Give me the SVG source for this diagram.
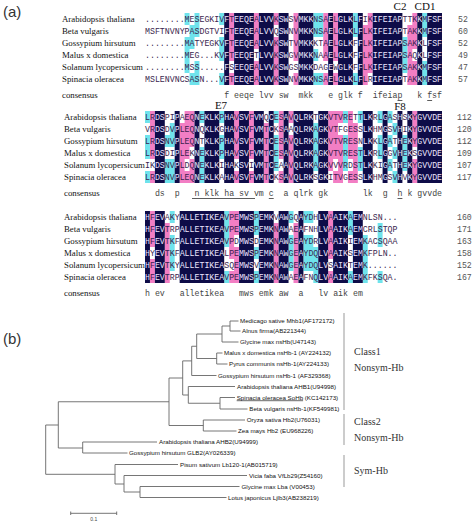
<svg xmlns="http://www.w3.org/2000/svg" width="474" height="523" viewBox="0 0 474 523">
<style>
.seq{font-family:"Liberation Mono","DejaVu Sans Mono",monospace;font-size:8.25px}
.con{font-family:"Liberation Mono","DejaVu Sans Mono",monospace;font-size:8.25px;fill:#444;white-space:pre}
.lab{font-family:"Liberation Serif","Times New Roman",serif;font-size:8.8px;fill:#111}
.num{font-family:"Liberation Mono",monospace;font-size:8.2px;fill:#555}
.mk{font-family:"Liberation Serif","Times New Roman",serif;font-size:11px;fill:#111;text-anchor:middle}
.pk{fill:#f27ec4}
.cy{fill:#6fe3ec}
.nv{fill:#0e0c48}
.ul{stroke:#333;stroke-width:0.8}
.br{stroke:#666;stroke-width:0.9;fill:none}
.lf{font-family:"Liberation Sans",Arial,sans-serif;font-size:6.2px;fill:#111}
.cl{font-family:"Liberation Serif","Times New Roman",serif;font-size:10px;fill:#333}
.pn{font-family:"Liberation Sans",Arial,sans-serif;font-size:15px;fill:#333}
.grp{stroke:#999;stroke-width:1}
</style>
<defs>
<clipPath id="c1"><path transform="translate(145,13) scale(4.95,12)" d="M16 0h1v6h-1zM18 0h4v6h-4zM23 0h3v6h-3zM27 0h2v6h-2zM31 0h3v6h-3zM37 0h1v6h-1zM39 0h3v6h-3zM43 0h1v6h-1zM46 0h6v6h-6zM55 0h1v6h-1zM57 0h3v6h-3z"/></clipPath>
<clipPath id="c2"><path transform="translate(145,111) scale(4.95,12)" d="M2 0h2v6h-2zM6 0h1v6h-1zM10 0h1v6h-1zM12 0h3v6h-3zM16 0h2v6h-2zM19 0h2v6h-2zM22 0h2v6h-2zM25 0h1v6h-1zM28 0h1v6h-1zM30 0h4v6h-4zM35 0h2v6h-2zM44 0h2v6h-2zM48 0h1v6h-1zM51 0h1v6h-1zM53 0h1v6h-1zM55 0h5v6h-5z"/></clipPath>
<clipPath id="c3"><path transform="translate(145,211) scale(4.95,12)" d="M0 0h1v6h-1zM2 0h2v6h-2zM7 0h9v6h-9zM19 0h3v6h-3zM23 0h3v6h-3zM27 0h2v6h-2zM31 0h1v6h-1zM35 0h2v6h-2zM38 0h3v6h-3zM42 0h2v6h-2z"/></clipPath>
</defs>
<rect width="474" height="523" fill="#fff"/>
<text class="pn" x="3" y="17">(a)</text>
<text class="pn" x="3" y="344">(b)</text>

<g id="block1">
<path class="pk" transform="translate(145,13) scale(4.95,12)" d="M17 0h1v4h-1zM17 5h1v1h-1zM22 0h1v3h-1zM22 4h1v2h-1zM26 0h1v1h-1zM26 2h1v4h-1zM30 0h1v4h-1zM30 5h1v1h-1zM36 0h1v4h-1zM36 5h1v1h-1zM38 0h1v4h-1zM38 5h1v1h-1zM44 1h1v5h-1zM45 0h1v5h-1zM53 1h1v5h-1zM54 0h1v3h-1zM54 4h1v2h-1z"/>
<path class="cy" transform="translate(145,13) scale(4.95,12)" d="M8 0h1v1h-1zM8 2h1v3h-1zM9 1h1v2h-1zM9 5h1v1h-1zM10 0h1v2h-1zM10 4h1v2h-1zM15 0h1v1h-1zM15 2h1v2h-1zM15 5h1v1h-1zM34 0h2v2h-2zM34 3h1v1h-1zM34 5h2v1h-2zM42 0h1v2h-1zM42 5h1v1h-1zM52 2h1v3h-1zM56 0h1v2h-1zM56 4h1v2h-1z"/>
<g fill="#3b1f4f"><g id="s1">
<text class="seq" x="145" y="22">........MESEGKIVFTEEQEALVVKSWSVMKKNSAELGLKLFIKIFEIAPTTKKMFSF</text>
<text class="seq" x="145" y="34">MSFTNVNYPASDGTVIFTEEQEALVVQSWNVMKKNSAELGLKLFLKIFEIAPTAKKMFSF</text>
<text class="seq" x="145" y="46">........MATYEGKVFTEEQEALVVKSWTVMKKKTAELGLKFFLKIFEIAPSAKKLFSF</text>
<text class="seq" x="145" y="58">........MEG...KVFTEEQETLVVKSWGVMKKNAAELGLKFFLKIFEIAPSAQKLFSF</text>
<text class="seq" x="145" y="70">........MSS.....FSEEQEALVVKSWGSMKKDAGEWGLKFFLKIFEIAPSAKKMFSF</text>
<text class="seq" x="145" y="82">MSLENVNCSASN...VFTEEQEALVVKSWNVMKKNSAELGLKLFLRIFEIAPTAKKMFSF</text>
</g></g>
<rect class="nv" x="145" y="13" width="297" height="72" clip-path="url(#c1)"/>
<use href="#s1" fill="#ece6ff" clip-path="url(#c1)"/>
<text class="con" x="224.2" y="98" xml:space="preserve">f eeqe lvv sw  mkk   e glk f  ifeiap   k fsf</text>
<line class="ul" x1="397.5" y1="100.5" x2="402.4" y2="100.5"/>
<line class="ul" x1="427.2" y1="100.5" x2="432.1" y2="100.5"/>
<text class="mk" x="400" y="10">C2</text>
<text class="mk" x="425" y="10">CD1</text>
<g class="lab">
<text x="62" y="22">Arabidopsis thaliana</text>
<text x="62" y="34">Beta vulgaris</text>
<text x="62" y="46">Gossypium hirsutum</text>
<text x="62" y="58">Malus x domestica</text>
<text x="62" y="70">Solanum lycopersicum</text>
<text x="62" y="82">Spinacia oleracea</text>
<text x="62" y="98">consensus</text>
</g>
<g class="num">
<text x="458" y="22">52</text><text x="458" y="34">60</text><text x="458" y="46">52</text>
<text x="458" y="58">49</text><text x="458" y="70">47</text><text x="458" y="82">57</text>
</g>
</g>

<g id="block2">
<path class="pk" transform="translate(145,111) scale(4.95,12)" d="M1 0h1v4h-1zM1 5h1v1h-1zM7 1h1v5h-1zM8 0h1v4h-1zM8 5h1v1h-1zM9 0h1v3h-1zM9 4h1v2h-1zM18 0h1v4h-1zM18 5h1v1h-1zM21 0h1v4h-1zM21 5h1v1h-1zM24 1h1v5h-1zM27 0h1v4h-1zM27 5h1v1h-1zM29 0h1v1h-1zM29 2h1v4h-1zM37 0h1v5h-1zM38 0h1v4h-1zM38 5h1v1h-1zM39 0h1v1h-1zM39 2h1v4h-1zM41 0h1v4h-1zM41 5h1v1h-1zM42 1h1v5h-1zM54 0h1v3h-1zM54 4h1v2h-1z"/>
<path class="cy" transform="translate(145,111) scale(4.95,12)" d="M0 0h1v1h-1zM0 2h1v2h-1zM0 5h1v1h-1zM4 2h1v1h-1zM4 4h1v2h-1zM5 1h1v2h-1zM5 4h1v2h-1zM11 0h1v1h-1zM11 3h1v3h-1zM15 0h1v1h-1zM15 2h1v2h-1zM26 0h1v1h-1zM26 2h1v3h-1zM34 1h1v4h-1zM40 0h1v1h-1zM40 2h1v3h-1zM43 0h1v1h-1zM43 3h1v2h-1zM47 0h1v1h-1zM47 2h1v2h-1zM49 0h1v1h-1zM49 2h1v1h-1zM49 4h1v1h-1zM50 1h1v1h-1zM50 3h1v1h-1zM50 5h1v1h-1zM52 2h1v3h-1z"/>
<g fill="#3b1f4f"><g id="s2">
<text class="seq" x="145" y="120">LRDSPIPAEQNEKLKPHAVSVFVMQCESAVQLRKTGKVTVRETTLKRLGASHSKYGVVDE</text>
<text class="seq" x="145" y="132">VRDSDVPLEQNQKLKGHAVSVFVMTCKSAAQLRKAGKVTFGESSLKHMGSVHIKYGVVDE</text>
<text class="seq" x="145" y="144">LRDSNVPLEQNTKLKPHAVSVFVMTCESAVQLRKAGKVTVRESNLKKLGATHEKYGVVDE</text>
<text class="seq" x="145" y="156">LRDSDIPLEKNEKLKPHAVSVFVMTCESAVQLRKAGKVTVRESTLKRLGGVHEKSGVVDE</text>
<text class="seq" x="145" y="168">IKDSNVPLDQNEKLKIHAKSVIVMTCEAAVQLRKAGKVVVRDSTLKKIGATHEKYGVVDE</text>
<text class="seq" x="145" y="180">LRDSNVPLEQNEKLKAHAVSVFVMTCKSAVQLRKSGKITVGESSLKHMGSVHVKYGVVDE</text>
</g></g>
<rect class="nv" x="145" y="111" width="297" height="72" clip-path="url(#c2)"/>
<use href="#s2" fill="#ece6ff" clip-path="url(#c2)"/>
<text class="con" x="154.9" y="196" xml:space="preserve">ds  p   n klk ha sv vm c  a qlrk gk       lk  g  h k gvvde</text>
<line class="ul" x1="192" y1="198.5" x2="255" y2="198.5"/>
<line class="ul" x1="268.8" y1="198.5" x2="273.7" y2="198.5"/>
<line class="ul" x1="397.5" y1="198.5" x2="402.4" y2="198.5"/>
<text class="mk" x="221" y="109">E7</text>
<text class="mk" x="400" y="110">F8</text>
<g class="lab">
<text x="64" y="120">Arabidopsis thaliana</text>
<text x="64" y="132">Beta vulgaris</text>
<text x="64" y="144">Gossypium hirsutum</text>
<text x="64" y="156">Malus x domestica</text>
<text x="64" y="168">Solanum lycopersicum</text>
<text x="64" y="180">Spinacia oleracea</text>
<text x="64" y="196">consensus</text>
</g>
<g class="num">
<text x="457" y="120">112</text><text x="457" y="132">120</text><text x="457" y="144">112</text>
<text x="457" y="156">109</text><text x="457" y="168">107</text><text x="457" y="180">117</text>
</g>
</g>

<g id="block3">
<path class="pk" transform="translate(145,211) scale(4.95,12)" d="M1 0h1v3h-1zM1 4h1v2h-1zM4 1h1v5h-1zM17 0h1v4h-1zM17 5h1v1h-1zM18 0h1v2h-1zM18 3h1v3h-1zM26 1h1v5h-1zM30 1h1v5h-1zM37 0h1v4h-1zM37 5h1v1h-1z"/>
<path class="cy" transform="translate(145,211) scale(4.95,12)" d="M5 0h1v1h-1zM5 2h1v3h-1zM16 0h1v3h-1zM16 5h1v1h-1zM22 0h1v2h-1zM22 3h1v1h-1zM22 5h1v1h-1zM29 0h1v1h-1zM29 2h1v3h-1zM32 0h2v1h-2zM32 2h2v3h-2zM34 3h1v3h-1zM41 0h1v2h-1zM41 5h1v1h-1zM44 2h1v4h-1zM47 1h1v2h-1zM47 5h1v1h-1z"/>
<g fill="#3b1f4f"><g id="s3">
<text class="seq" x="145" y="220">HFEVAKYALLETIKEAVPEMWSPEMKVAWGQAYDHLVAAIKAEMNLSN...</text>
<text class="seq" x="145" y="232">HFEVTRPALLETIKEAVPEMWSPEMKNAWAEAFNHLVAAIKAEMCRLSTQP</text>
<text class="seq" x="145" y="244">HFEVTKFALLETIKEAVPDMWSDEMKNAWGEAYDRLVAAIKIEMKACSQAA</text>
<text class="seq" x="145" y="256">HYEVTKFALLETIKEALPEMWSPEMKNAWGEAYDQLVAAIKSEMKFPLN..</text>
<text class="seq" x="145" y="268">HFEVTKYALLETIKEASQEMWSVEMKNAWGEAYDQLVSAIKTEMK......</text>
<text class="seq" x="145" y="280">HFEVTRPALLETIKEAVPEMWSPEMKNAWAEAFNQLVAAIKAEMKFKSQA.</text>
</g></g>
<rect class="nv" x="145" y="211" width="252.45" height="72" clip-path="url(#c3)"/>
<use href="#s3" fill="#ece6ff" clip-path="url(#c3)"/>
<text class="con" x="145" y="296" xml:space="preserve">h ev   alletikea   mws emk aw  a   lv aik em</text>
<g class="lab">
<text x="64" y="220">Arabidopsis thaliana</text>
<text x="64" y="232">Beta vulgaris</text>
<text x="64" y="244">Gossypium hirsutum</text>
<text x="64" y="256">Malus x domestica</text>
<text x="64" y="268">Solanum lycopersicum</text>
<text x="64" y="280">Spinacia oleracea</text>
<text x="64" y="296">consensus</text>
</g>
<g class="num">
<text x="457" y="220">160</text><text x="457" y="232">171</text><text x="457" y="244">163</text>
<text x="457" y="256">158</text><text x="457" y="268">152</text><text x="457" y="280">167</text>
</g>
</g>

<g id="connectors" class="br">
<path d="M45.7 425V474.3M45.7 425H58.3M58.3 401.75V448"/>
<path d="M58.3 401.75H169M169 378V425.5"/>
<path d="M169 425.5H203.3M203.3 420V431M203.3 420H245M203.3 431H236.5"/>
<path d="M58.3 448H82.7M82.7 442V453M82.7 442H157M82.7 453H127.5"/>
<path d="M45.7 474.3H115M115 464.5V484M115 464.5H178M115 484H124M124 475.5V492M124 475.5H247M124 492H140M140 486.5V497.5M140 486.5H239.5M140 497.5H226.5"/>
<path d="M169 378H182.7M182.7 360.9V395"/>
<path d="M182.7 395H188.3M188.3 386.5V403.25M188.3 386.5H235M188.3 403.25H220M220 397.5V409M220 397.5H235M220 409H247.5"/>
<path d="M182.7 360.9H191.7M191.7 346.25V375.5M191.7 375.5H216.5"/>
<path d="M191.7 346.25H196.7M196.7 334V358.5M196.7 358.5H216.7M216.7 353V364M216.7 353H222.5M216.7 364H227.5"/>
<path d="M196.7 334H222M222 326V342M222 342H238.5M222 326H230M230 321V331M230 321H238.5M230 331H240.5"/>
</g>

<g id="leaves" class="lf">
<g id="n-medicago"><text x="240" y="323">Medicago sative Mhb1(AF172172)</text></g>
<g id="n-alnus"><text x="242" y="333">Alnus firma(AB221344)</text></g>
<g id="n-glycine-nshb"><text x="240" y="344">Glycine max nsHb(U47143)</text></g>
<g id="n-malus"><text x="224" y="355">Malus x domestica nsHb-1 (AY224132)</text></g>
<g id="n-pyrus"><text x="229" y="366">Pyrus communis nsHb-1(AY224133)</text></g>
<g id="n-gossypium-nshb"><text x="218" y="377.5">Gossypium hirsutum nsHb-1 (AF329368)</text></g>
<g id="n-ahb1"><text x="237" y="388.5">Arabidopsis thaliana AHB1(U94998)</text></g>
<g id="n-spinacia"><text x="236.7" y="399.5"><tspan text-decoration="underline">Spinacia oleracea SoHb</tspan> (KC142173)</text></g>
<g id="n-beta"><text x="249.3" y="411">Beta vulgaris nsHb-1(KF549981)</text></g>
<g id="n-oryza"><text x="246.7" y="422">Oryza sativa Hb2(U76031)</text></g>
<g id="n-zea"><text x="238" y="433">Zea mays Hb2 (EU968226)</text></g>
<g id="n-ahb2"><text x="159" y="444">Arabidopsis thaliana AHB2(U94999)</text></g>
<g id="n-glb2"><text x="129" y="455">Gossypium hirsutum GLB2(AY026339)</text></g>
<g id="n-pisum"><text x="180" y="466.5">Pisum sativum Lb120-1(AB015719)</text></g>
<g id="n-vicia"><text x="249" y="477.5">Vicia faba VfLb29(Z54160)</text></g>
<g id="n-glycine-lba"><text x="241.5" y="488.5">Glycine max Lba (V00453)</text></g>
<g id="n-lotus"><text x="228" y="499.5">Lotus japonicus Ljlb3(AB238219)</text></g>
</g>

<g id="classes">
<line class="grp" x1="344" y1="313" x2="344" y2="410"/>
<line class="grp" x1="344" y1="414" x2="344" y2="445"/>
<line class="grp" x1="344" y1="455" x2="344" y2="487"/>
<text class="cl" x="354" y="355">Class1</text>
<text class="cl" x="354" y="371">Nonsym-Hb</text>
<text class="cl" x="354" y="425">Class2</text>
<text class="cl" x="354" y="441">Nonsym-Hb</text>
<text class="cl" x="354" y="474">Sym-Hb</text>
</g>

<g id="scalebar">
<path class="br" d="M70.7 513.3H116.7M70.7 511.5V515M116.7 511.5V515"/>
<text x="93.7" y="521" font-family="Liberation Sans, Arial, sans-serif" font-size="5" fill="#444" text-anchor="middle">0.1</text>
</g>
</svg>
